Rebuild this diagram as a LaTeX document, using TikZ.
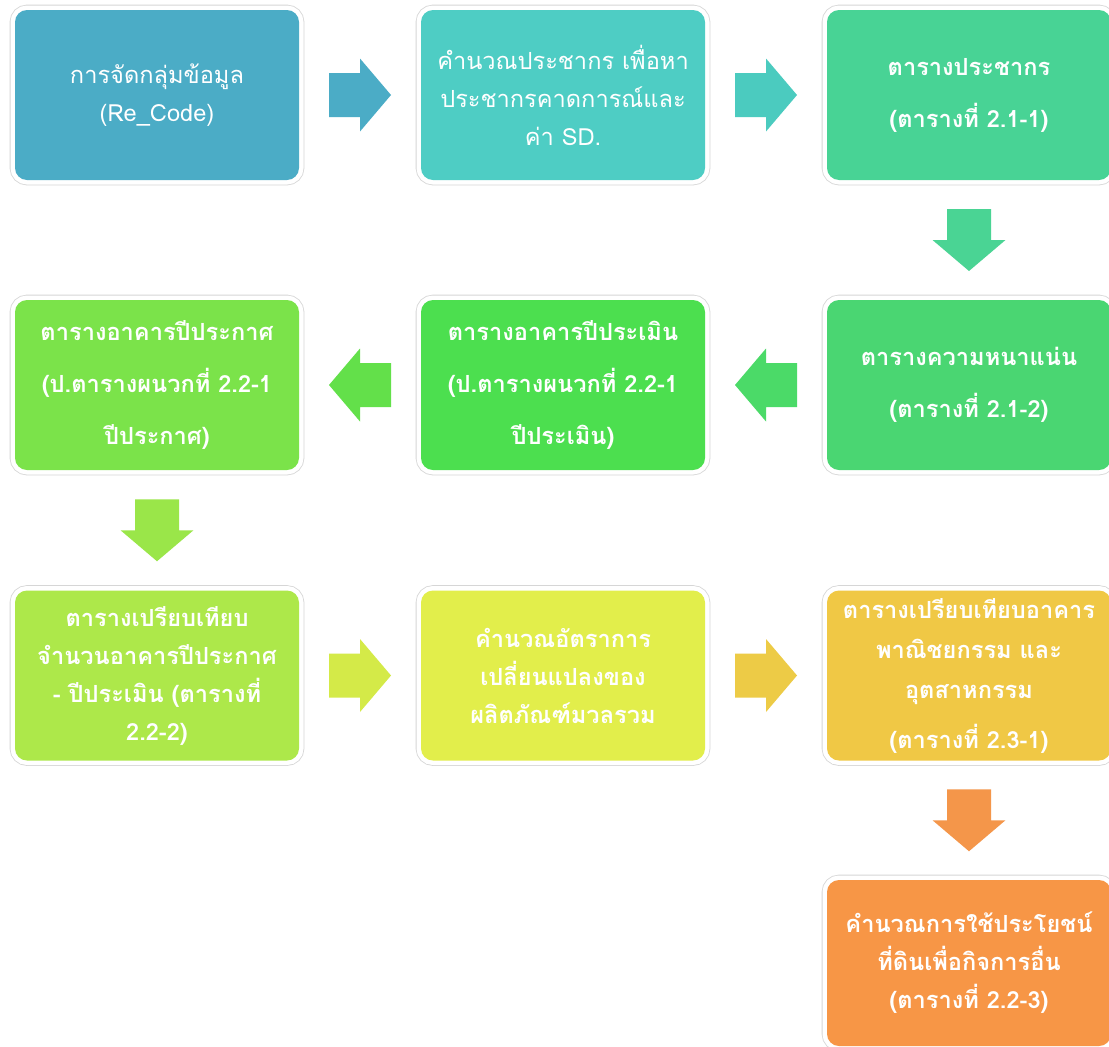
\documentclass[tikz,border=0pt]{standalone}
\usepackage{fontspec}
\setmainfont[Script=Thai]{Loma}
\usetikzlibrary{calc}
\definecolor{c1}{HTML}{4BACC6}
\definecolor{c2}{HTML}{4ECDC4}
\definecolor{c3}{HTML}{48D395}
\definecolor{c4}{HTML}{4AD672}
\definecolor{c5}{HTML}{4CDF4F}
\definecolor{c6}{HTML}{7BE34A}
\definecolor{c7}{HTML}{ADE84A}
\definecolor{c8}{HTML}{E2EE4B}
\definecolor{c9}{HTML}{F0C845}
\definecolor{c10}{HTML}{F79646}
\definecolor{a1}{HTML}{4BACC6}
\definecolor{a2}{HTML}{4BCBBF}
\definecolor{a3}{HTML}{4AD494}
\definecolor{a4}{HTML}{4BDA68}
\definecolor{a5}{HTML}{63E04A}
\definecolor{a6}{HTML}{9AE649}
\definecolor{a7}{HTML}{D4EA48}
\definecolor{a8}{HTML}{EDCB46}
\definecolor{a9}{HTML}{F4964A}
\definecolor{framegray}{HTML}{D6D6D6}
\tikzset{
  box/.style={rounded corners=12pt, minimum width=284pt, minimum height=170pt,
    inner sep=0pt, outer sep=0pt, align=center, text=white,
    font=\fontsize{23.6}{38}\selectfont,
    preaction={draw=framegray, line width=10.6pt},
    preaction={draw=white, line width=9pt}},
  boldbox/.style={box, font=\fontsize{23.6}{38}\selectfont\bfseries},
  blockarrow/.pic={\fill[pic actions] (-31,-22) -- (0,-22) -- (0,-36.5) -- (31,0) -- (0,36.5) -- (0,22) -- (-31,22) -- cycle;}
}
\begin{document}
\begin{tikzpicture}[x=1pt, y=-1pt]
\useasboundingbox (0,0) rectangle (1109,1047);
\clip (0,0) rectangle (1109,1047);
\fill[white] (0,0) rectangle (1109,1047);
% row 1
\node[box, fill=c1] (b1) at (157,95) {การจัดกลุ่มข้อมูล\\(Re\_Code)};
\node[box, fill=c2] (b2) at (563,95) {คำนวณประชากร เพื่อหา\\ประชากรคาดการณ์และ\\ค่า SD.};
\node[boldbox, fill=c3] (b3) at (969,95) {ตารางประชากร\\[14pt](ตารางที่ 2.1-1)};
% row 2
\node[boldbox, fill=c4] (b4) at (969,385) {ตารางความหนาแน่น\\[14pt](ตารางที่ 2.1-2)};
\node[boldbox, fill=c5] (b5) at (563,385) {ตารางอาคารปีประเมิน\\[14pt](ป.ตารางผนวกที่ 2.2-1\\[14pt]ปีประเมิน)};
\node[boldbox, fill=c6] (b6) at (157,385) {ตารางอาคารปีประกาศ\\[14pt](ป.ตารางผนวกที่ 2.2-1\\[14pt]ปีประกาศ)};
% row 3
\node[boldbox, fill=c7] (b7) at (157,675.5) {ตารางเปรียบเทียบ\\จำนวนอาคารปีประกาศ\\- ปีประเมิน (ตารางที่\\2.2-2)};
\node[boldbox, fill=c8] (b8) at (563,675.5) {คำนวณอัตราการ\\เปลี่ยนแปลงของ\\ผลิตภัณฑ์มวลรวม};
\node[boldbox, fill=c9] (b9) at (969,675.5) {ตารางเปรียบเทียบอาคาร\\[2pt]พาณิชยกรรม และ\\[2pt]อุตสาหกรรม\\[12pt](ตารางที่ 2.3-1)};
% row 4
\node[boldbox, fill=c10, minimum height=166pt] (b10) at (969,963) {คำนวณการใช้ประโยชน์\\ที่ดินเพื่อกิจการอื่น\\(ตารางที่ 2.2-3)};
% arrows
\pic[fill=a1] at ($(b1.east)!0.5!(b2.west)$) {blockarrow};
\pic[fill=a2] at ($(b2.east)!0.5!(b3.west)$) {blockarrow};
\pic[fill=a3, rotate=-90] at ($(b3.south)!0.5!(b4.north)$) {blockarrow};
\pic[fill=a4, rotate=180] at ($(b4.west)!0.5!(b5.east)$) {blockarrow};
\pic[fill=a5, rotate=180] at ($(b5.west)!0.5!(b6.east)$) {blockarrow};
\pic[fill=a6, rotate=-90] at ($(b6.south)!0.5!(b7.north)$) {blockarrow};
\pic[fill=a7] at ($(b7.east)!0.5!(b8.west)$) {blockarrow};
\pic[fill=a8] at ($(b8.east)!0.5!(b9.west)$) {blockarrow};
\pic[fill=a9, rotate=-90] at ($(b9.south)!0.5!(b10.north)$) {blockarrow};
\end{tikzpicture}
\end{document}
